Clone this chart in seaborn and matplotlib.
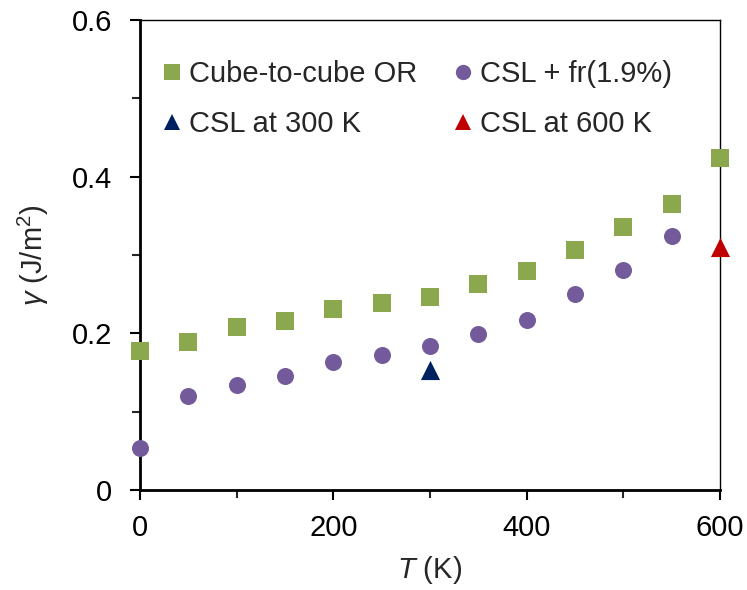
import matplotlib
matplotlib.use("Agg")
import matplotlib.pyplot as plt
import seaborn as sns
import pandas as pd
from matplotlib.lines import Line2D
from matplotlib.ticker import MultipleLocator

# Data
temps = [0, 50, 100, 150, 200, 250, 300, 350, 400, 450, 500, 550, 600]
cube_vals = [0.178, 0.189, 0.208, 0.216, 0.231, 0.239, 0.246, 0.263, 0.280, 0.306, 0.336, 0.365, 0.424]
fr_temps = [0, 50, 100, 150, 200, 250, 300, 350, 400, 450, 500, 550]
fr_vals = [0.054, 0.120, 0.134, 0.146, 0.163, 0.172, 0.184, 0.199, 0.217, 0.250, 0.281, 0.324]
csl300_t = [300]
csl300_v = [0.153]
csl600_t = [600]
csl600_v = [0.310]

labels = ["Cube-to-cube OR", "CSL + fr(1.9%)", "CSL at 300 K", "CSL at 600 K"]
colors = {"Cube-to-cube OR": "#8BA84F", "CSL + fr(1.9%)": "#735B9B",
          "CSL at 300 K": "#002060", "CSL at 600 K": "#C00000"}
markers = {"Cube-to-cube OR": "s", "CSL + fr(1.9%)": "o",
           "CSL at 300 K": "^", "CSL at 600 K": "^"}
sizes = {"Cube-to-cube OR": 150, "CSL + fr(1.9%)": 150,
         "CSL at 300 K": 190, "CSL at 600 K": 190}

sns.set_style("white")
plt.rcParams['font.family'] = ['Liberation Sans', 'DejaVu Sans']
plt.rcParams['mathtext.fontset'] = 'custom'
plt.rcParams['mathtext.rm'] = 'Liberation Sans'
plt.rcParams['mathtext.it'] = 'Liberation Sans:italic'

FS = 21

fig = plt.figure(figsize=(7.47, 5.9), dpi=100)
ax = fig.add_axes([140/747, 1-490/590, (720-140)/747, (490-20)/590])

series = [
    (labels[0], temps, cube_vals),
    (labels[1], fr_temps, fr_vals),
    (labels[2], csl300_t, csl300_v),
    (labels[3], csl600_t, csl600_v),
]
for name, xs, ys in series:
    df = pd.DataFrame({"T": xs, "gamma": ys})
    sns.scatterplot(data=df, x="T", y="gamma", ax=ax, color=colors[name],
                    marker=markers[name], s=sizes[name], linewidth=0,
                    clip_on=False, zorder=3)

ax.set_xlim(0, 600)
ax.set_ylim(0, 0.6)
ax.xaxis.set_major_locator(MultipleLocator(200))
ax.xaxis.set_minor_locator(MultipleLocator(100))
ax.yaxis.set_major_locator(MultipleLocator(0.2))
ax.yaxis.set_minor_locator(MultipleLocator(0.1))
ax.yaxis.set_major_formatter(matplotlib.ticker.FuncFormatter(lambda v, p: "0" if abs(v) < 1e-9 else f"{v:.1f}"))

ax.tick_params(axis='both', which='major', direction='out', length=7, width=1.5,
               labelsize=FS, colors='black', left=True, bottom=True)
ax.tick_params(axis='y', which='major', pad=13)
ax.tick_params(axis='x', which='major', pad=10)
ax.tick_params(axis='both', which='minor', direction='out', length=6, width=1.5,
               left=True, bottom=True)

for s in ['left', 'bottom']:
    ax.spines[s].set_linewidth(2)
    ax.spines[s].set_color('black')
for s in ['top', 'right']:
    ax.spines[s].set_linewidth(1)
    ax.spines[s].set_color('black')
    ax.spines[s].set_visible(True)

ax.set_xlabel(r"$T$ (K)", fontsize=FS, labelpad=9)
ax.set_ylabel(r"$\gamma$ (J/m$^2$)", fontsize=FS, labelpad=15)

handles = {}
for name in labels:
    handles[name] = Line2D([], [], linestyle='none', marker=markers[name],
                           color=colors[name], markersize=11 if markers[name] != '^' else 12,
                           markeredgewidth=0)
order = [labels[0], labels[2], labels[1], labels[3]]
ax.legend([handles[n] for n in order], order, ncol=2, frameon=False,
          loc='upper left', bbox_to_anchor=(0.022, 0.94), fontsize=FS,
          handlelength=0.55, handletextpad=0.3, columnspacing=1.3,
          labelspacing=0.75, borderaxespad=0)

fig.savefig("out.png", dpi=100)
